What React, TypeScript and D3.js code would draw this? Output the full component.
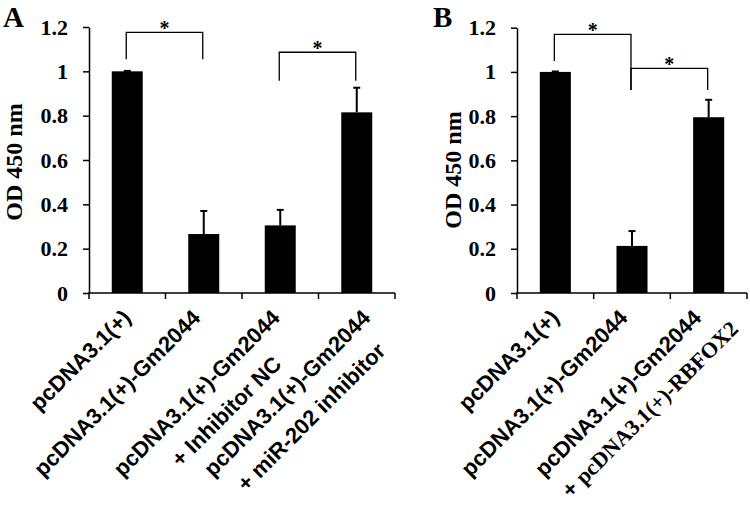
import React, { useEffect, useRef } from 'react';
import * as d3 from 'd3';

// ---------- data ----------
const categoriesA: string[][] = [
  ['pcDNA3.1(+)'],
  ['pcDNA3.1(+)-Gm2044'],
  ['pcDNA3.1(+)-Gm2044', '+ Inhibitor NC'],
  ['pcDNA3.1(+)-Gm2044', '+ miR-202 inhibitor'],
];
const valuesA = [1.0, 0.266, 0.305, 0.815];
const errorsA = [0.002, 0.104, 0.07, 0.111];

const categoriesB: string[][] = [
  ['pcDNA3.1(+)'],
  ['pcDNA3.1(+)-Gm2044'],
  ['pcDNA3.1(+)-Gm2044', '+ pcDNA3.1(+)-RBFOX2'],
];
const valuesB = [1.0, 0.213, 0.795];
const errorsB = [0.002, 0.067, 0.079];

const yTicks = [0, 0.2, 0.4, 0.6, 0.8, 1, 1.2];
const yTitle = 'OD 450 nm';

// significance brackets: [fromIdx, toIdx, topValue, leftLegEnd, rightLegEnd]
const bracketsA: [number, number, number, number, number][] = [
  [0, 1, 1.176, 1.055, 1.055],
  [2, 3, 1.086, 0.957, 0.957],
];
const bracketsB: [number, number, number, number, number][] = [
  [0, 1, 1.17, 1.049, 0.918],
  [1, 2, 1.016, 0.918, 0.918],
];

// ---------- layout / style ----------
const SERIF = '"Liberation Serif", "Times New Roman", serif';
const SANS = '"Liberation Sans", Arial, sans-serif';

interface PanelCfg {
  letter: string;
  letterX: number;
  cats: string[][];
  values: number[];
  errors: number[];
  brackets: [number, number, number, number, number][];
  x0: number;
  x1: number;
  yBottom: number;
  yTop: number;
  titleX: number;
  titleY: number;
  labelNudge: number[];
  line2Shift: number[];
  serifSecondLine: boolean[];
}

function drawPanel(svg: d3.Selection<SVGSVGElement, unknown, null, undefined>, p: PanelCfg) {
  const idx = p.cats.map((_, i) => String(i));
  const x = d3.scaleBand<string>().domain(idx).range([p.x0, p.x1]).padding(0);
  const y = d3.scaleLinear().domain([0, 1.2]).range([p.yBottom, p.yTop]);
  const bw = x.bandwidth() * 0.405;
  const g = svg.append('g');

  // bars
  g.selectAll('rect.bar')
    .data(p.values)
    .join('rect')
    .attr('x', (_, i) => x(String(i))! + x.bandwidth() / 2 - bw / 2)
    .attr('y', (d) => y(d))
    .attr('width', bw)
    .attr('height', (d) => y(0) - y(d))
    .attr('fill', '#000');

  // error bars
  p.values.forEach((v, i) => {
    const cx = x(String(i))! + x.bandwidth() / 2;
    const top = y(v + p.errors[i]);
    g.append('line').attr('x1', cx).attr('x2', cx).attr('y1', y(v)).attr('y2', top)
      .attr('stroke', '#000').attr('stroke-width', 2);
    g.append('line').attr('x1', cx - 3.5).attr('x2', cx + 3.5).attr('y1', top).attr('y2', top)
      .attr('stroke', '#000').attr('stroke-width', 2);
  });

  // y axis
  const yAxis = d3.axisLeft(y).tickValues(yTicks).tickSize(6).tickSizeOuter(0).tickPadding(15)
    .tickFormat((d) => d3.format('~g')(d as number));
  const ya = g.append('g').attr('transform', `translate(${p.x0},0)`).call(yAxis);
  ya.select('.domain').attr('stroke', '#000').attr('stroke-width', 1.5);
  ya.selectAll('.tick line').attr('stroke', '#000').attr('stroke-width', 1.5);
  ya.selectAll('.tick text')
    .attr('font-family', SERIF).attr('font-weight', 'bold').attr('font-size', 22).attr('fill', '#000');

  // x axis
  g.append('line').attr('x1', p.x0 - 0.75).attr('x2', p.x1).attr('y1', y(0)).attr('y2', y(0))
    .attr('stroke', '#000').attr('stroke-width', 1.5);
  const bounds = [...idx.map((k) => x(k)!), p.x1];
  bounds.forEach((bx) => {
    g.append('line').attr('x1', bx).attr('x2', bx).attr('y1', y(0)).attr('y2', y(0) + 6)
      .attr('stroke', '#000').attr('stroke-width', 1.5);
  });

  // x labels
  p.cats.forEach((lines, i) => {
    const cx = x(String(i))! + x.bandwidth() / 2 + p.labelNudge[i];
    const lg = g.append('g').attr('transform', `translate(${cx},${y(0) + 26}) rotate(-45)`);
    const t1 = lg.append('text').attr('text-anchor', 'end').attr('x', 0).attr('y', 0)
      .attr('font-family', SANS).attr('font-weight', 'bold').attr('font-size', 22).attr('fill', '#000')
      .text(lines[0]);
    const w1 = (t1.node() as SVGTextElement).getComputedTextLength();
    if (lines[1]) {
      const t2 = lg.append('text').attr('text-anchor', 'middle')
        .attr('x', -w1 / 2 + p.line2Shift[i]).attr('y', 34)
        .attr('font-weight', 'bold').attr('font-size', 22).attr('fill', '#000');
      if (p.serifSecondLine[i]) {
        t2.append('tspan').attr('font-family', SANS).text(lines[1].slice(0, 2));
        t2.append('tspan').attr('font-family', SERIF).text(lines[1].slice(2));
      } else {
        t2.attr('font-family', SANS).text(lines[1]);
      }
    }
  });

  // significance brackets
  p.brackets.forEach(([a, b, top, la, rb]) => {
    const xa = x(String(a))! + x.bandwidth() / 2 - 1;
    const xb = x(String(b))! + x.bandwidth() / 2 - 1;
    const path = d3.path();
    path.moveTo(xa, y(la));
    path.lineTo(xa, y(top));
    path.lineTo(xb, y(top));
    path.lineTo(xb, y(rb));
    g.append('path').attr('d', path.toString()).attr('fill', 'none')
      .attr('stroke', '#000').attr('stroke-width', 1.3);
    g.append('text').attr('x', (xa + xb) / 2).attr('y', y(top) + 3)
      .attr('text-anchor', 'middle').attr('font-family', SERIF).attr('font-weight', 'bold')
      .attr('font-size', 20).attr('fill', '#000').text('*');
  });

  // y title
  g.append('text')
    .attr('transform', `translate(${p.titleX},${p.titleY}) rotate(-90)`)
    .attr('text-anchor', 'middle').attr('dy', '0.35em')
    .attr('font-family', SERIF).attr('font-weight', 'bold').attr('font-size', 24).attr('fill', '#000')
    .text(yTitle);

  // panel letter
  g.append('text').attr('x', p.letterX).attr('y', 27)
    .attr('font-family', SERIF).attr('font-weight', 'bold').attr('font-size', 29).attr('fill', '#000')
    .text(p.letter);
}

export default function App() {
  const ref = useRef<SVGSVGElement>(null);
  useEffect(() => {
    if (!ref.current) return;
    const svg = d3.select(ref.current);
    svg.selectAll('*').remove();
    svg.append('rect').attr('width', 750).attr('height', 506).attr('fill', '#fff');
    drawPanel(svg, {
      letter: 'A', letterX: 3, cats: categoriesA, values: valuesA, errors: errorsA, brackets: bracketsA,
      x0: 89, x1: 395, yBottom: 293, yTop: 27, titleX: 14, titleY: 162,
      labelNudge: [5, -2, 1, 15], line2Shift: [0, 0, 8, 0], serifSecondLine: [false, false, false, false],
    });
    drawPanel(svg, {
      letter: 'B', letterX: 433, cats: categoriesB, values: valuesB, errors: errorsB, brackets: bracketsB,
      x0: 517, x1: 747, yBottom: 293, yTop: 27.7, titleX: 453, titleY: 170,
      labelNudge: [5, -3, -6], line2Shift: [0, 0, 11], serifSecondLine: [false, false, true],
    });
  }, []);
  return (
    <svg ref={ref} width={750} height={506}
      style={{ position: 'absolute', left: 0, top: 0, display: 'block' }} />
  );
}
